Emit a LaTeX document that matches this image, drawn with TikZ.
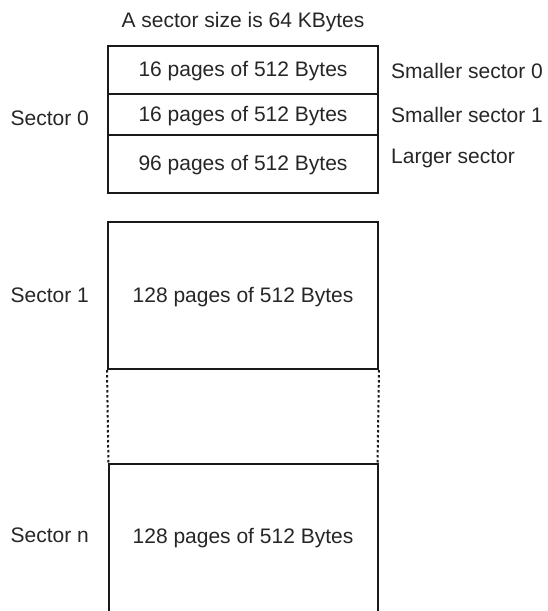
\documentclass[tikz,border=0pt]{standalone}
\usepackage{fontspec}
\setmainfont{Liberation Sans}
\begin{document}
\begin{tikzpicture}[x=1pt,y=-1pt,
  every node/.style={font=\fontsize{21}{25}\selectfont, text=black!85, inner sep=0pt},
  cell/.style={draw=black!90, line width=2pt, minimum width=270pt, anchor=center, text height=15pt, text depth=2pt},
  lbl/.style={anchor=west},
  slbl/.style={anchor=east},
  dotline/.style={draw=black!90, line width=2pt, dash pattern=on 2.5pt off 2.5pt}]
\useasboundingbox (0,0) rectangle (547,611);
% title
\node (title) at (243,22) {A sector size is 64 KBytes};
% sector 0 cells
\node[cell, minimum height=48pt] (c0) at (243,70) {16 pages of 512 Bytes};
\node[cell, minimum height=41pt] (c1) at (243,114.5) {16 pages of 512 Bytes};
\node[cell, minimum height=58pt] (c2) at (243,164) {96 pages of 512 Bytes};
% right labels
\node[lbl] (r0) at (391,71) {Smaller sector 0};
\node[lbl] (r1) at (391,115) {Smaller sector 1};
\node[lbl] (r2) at (391,158) {Larger sector};
% sector 1
\node[cell, minimum height=147pt] (s1) at (243,295.5) {128 pages of 512 Bytes};
% sector n (open at bottom)
\coordinate (nbl) at (108.5,614);
\coordinate (nbr) at (377.5,614);
\coordinate (ntl) at (108.5,464);
\coordinate (ntr) at (377.5,464);
\draw[draw=black!90, line width=2pt] (nbl) -- (ntl) -- (ntr) -- (nbr);
\node[text height=15pt, text depth=2pt] (sn) at (243,537) {128 pages of 512 Bytes};
% dotted gap
\draw[dotline] (s1.south west) -- (ntl);
\draw[dotline] (s1.south east) -- (ntr);
% left labels
\node[slbl] (l0) at (89,118) {Sector 0};
\node[slbl] (l1) at (89,295.5) {Sector 1};
\node[slbl] (ln) at (89,535.5) {Sector n};
\end{tikzpicture}
\end{document}
